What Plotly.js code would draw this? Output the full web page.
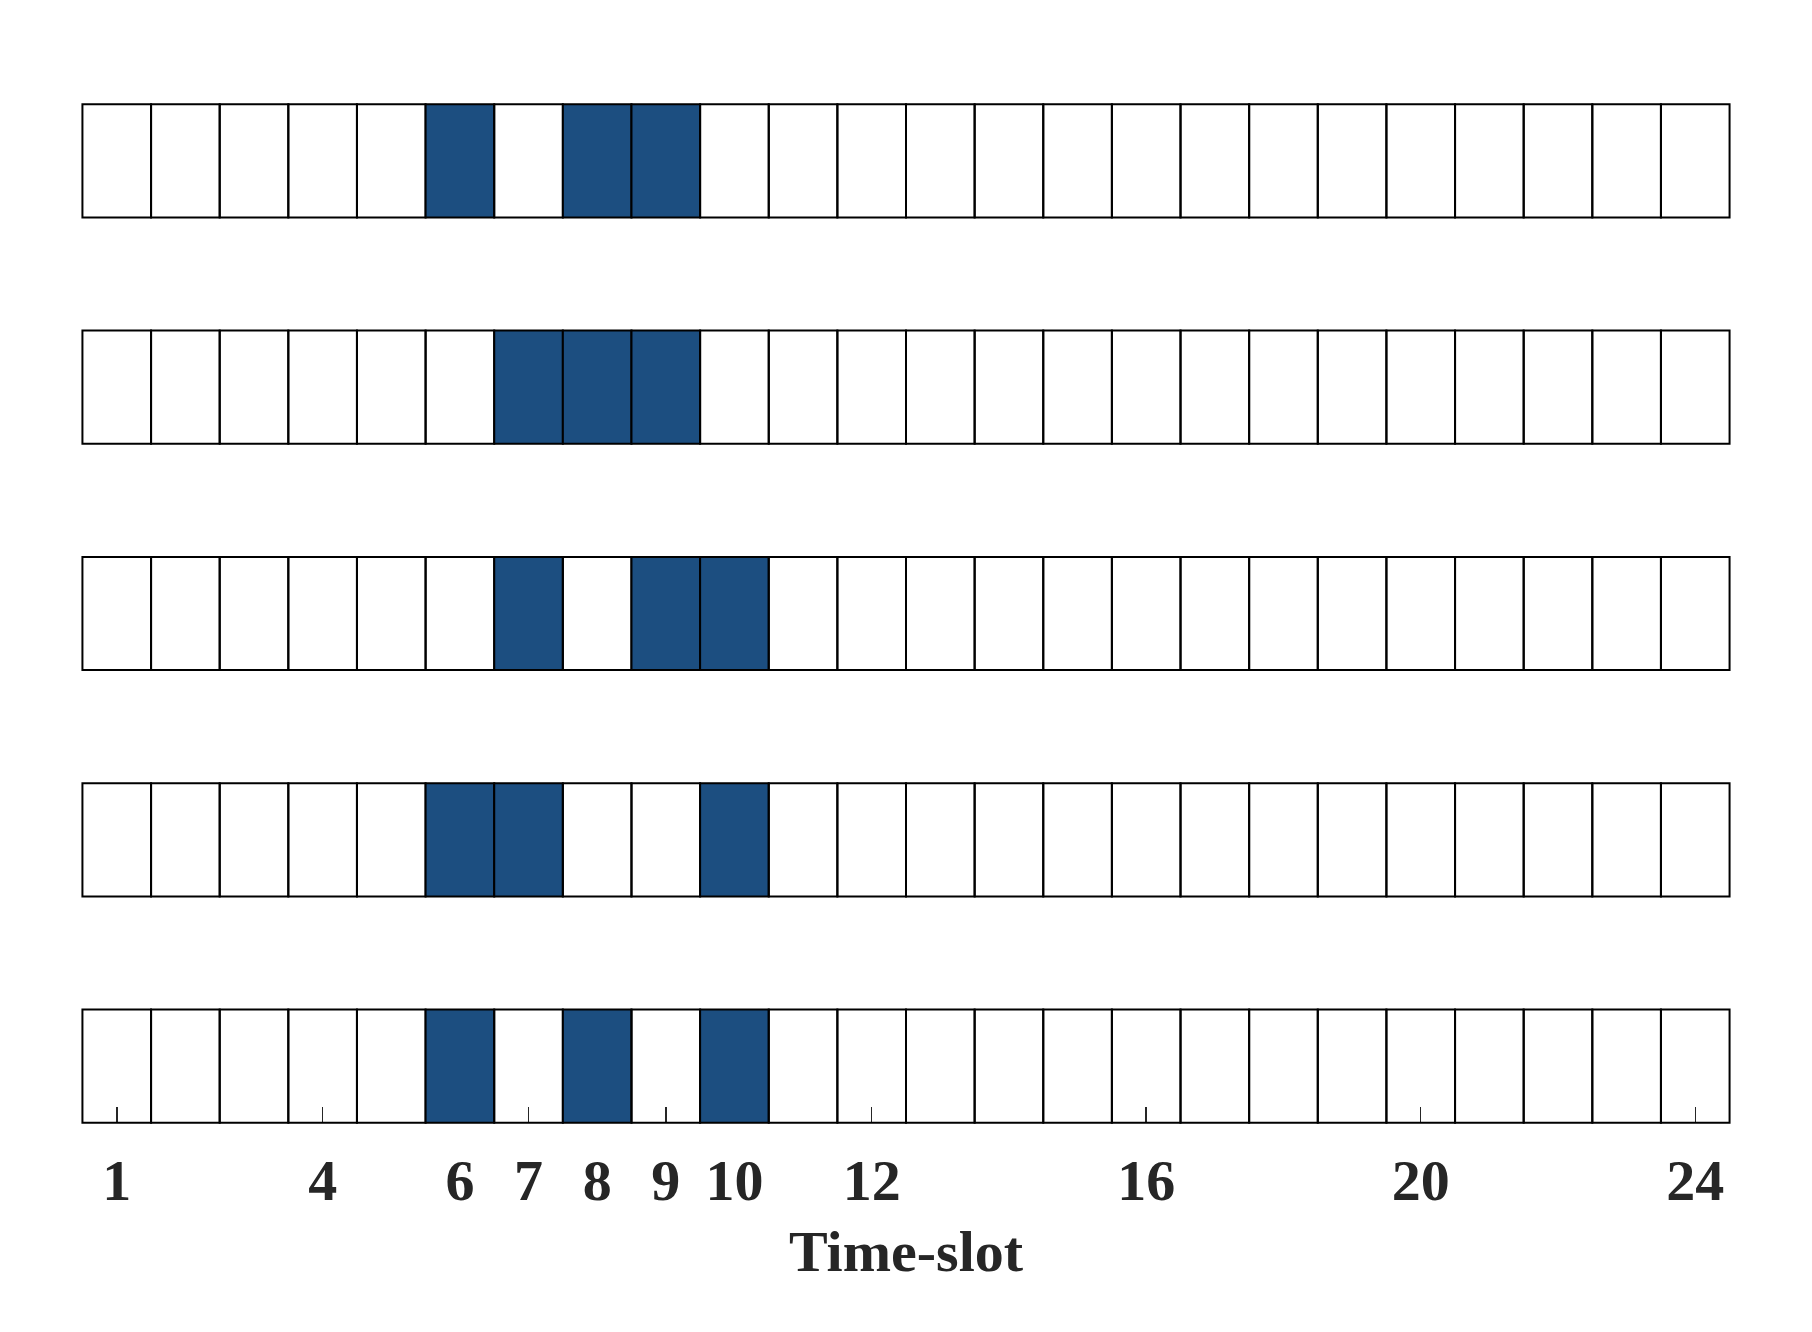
<!DOCTYPE html>
<html>
<head>
<meta charset="utf-8">
<script src="https://cdn.plot.ly/plotly-3.0.1.min.js"></script>
<style>
    html, body { margin: 0; padding: 0; background: #fff; }
    #chart { width: 1812px; height: 1332px; }
</style>
</head>
<body>
<div id="chart"></div>
<script>
// Time-slots on the x axis
const slots = Array.from({length: 24}, (_, i) => i + 1);
const tickSlots = [1, 4, 6, 7, 8, 9, 10, 12, 16, 20, 24];

// Occupied slots for each row, top row first
const row1Busy = [6, 8, 9];
const row2Busy = [7, 8, 9];
const row3Busy = [7, 9, 10];
const row4Busy = [6, 7, 10];
const row5Busy = [6, 8, 10];

const rows = [row1Busy, row2Busy, row3Busy, row4Busy, row5Busy];

const busyColor = '#1c4e80';
const textColor = '#262626';

function buildTraces() {
    const traces = [];
    rows.forEach((busy, idx) => {
        // rows are stacked with a gap equal to their height
        const base = (rows.length - 1 - idx) * 2;
        traces.push({
            type: 'bar',
            x: slots,
            y: slots.map(() => 1),
            base: slots.map(() => base),
            width: 1,
            marker: {
                // empty cells stay see-through so the ticks show inside them
                color: slots.map(s => busy.includes(s) ? busyColor : 'rgba(0,0,0,0)'),
                line: { color: '#000000', width: 2 }
            },
            hoverinfo: 'skip',
            showlegend: false
        });
    });
    return traces;
}

function createChart() {
    const yPad = 0.1;
    const yTop = (rows.length - 1) * 2 + 1;

    const layout = {
        width: 1812,
        height: 1332,
        margin: { l: 78.6, r: 78.9, t: 92.7, b: 198 },
        paper_bgcolor: '#ffffff',
        plot_bgcolor: '#ffffff',
        barmode: 'overlay',
        bargap: 0,
        showlegend: false,
        font: { family: '"Liberation Serif", "Times New Roman", serif', color: textColor },
        xaxis: {
            range: [0.45, 24.55],
            anchor: 'free',
            position: yPad / (yTop + 2 * yPad),
            layer: 'below traces',
            tickmode: 'array',
            tickvals: tickSlots,
            ticktext: tickSlots.map(String),
            ticks: 'inside',
            ticklen: 16,
            tickwidth: 1.5,
            tickcolor: textColor,
            ticklabelstandoff: 18,
            tickfont: { size: 58, weight: 'bold', color: textColor },
            showgrid: false,
            zeroline: false,
            showline: false,
            fixedrange: true,
            title: {
                text: 'Time-slot',
                standoff: 18,
                font: { size: 58, weight: 'bold', color: textColor }
            }
        },
        yaxis: {
            range: [-yPad, yTop + yPad],
            visible: false,
            showgrid: false,
            zeroline: false,
            fixedrange: true
        }
    };

    Plotly.newPlot('chart', buildTraces(), layout, { staticPlot: true, displayModeBar: false });
}

window.onload = createChart;
</script>
</body>
</html>
